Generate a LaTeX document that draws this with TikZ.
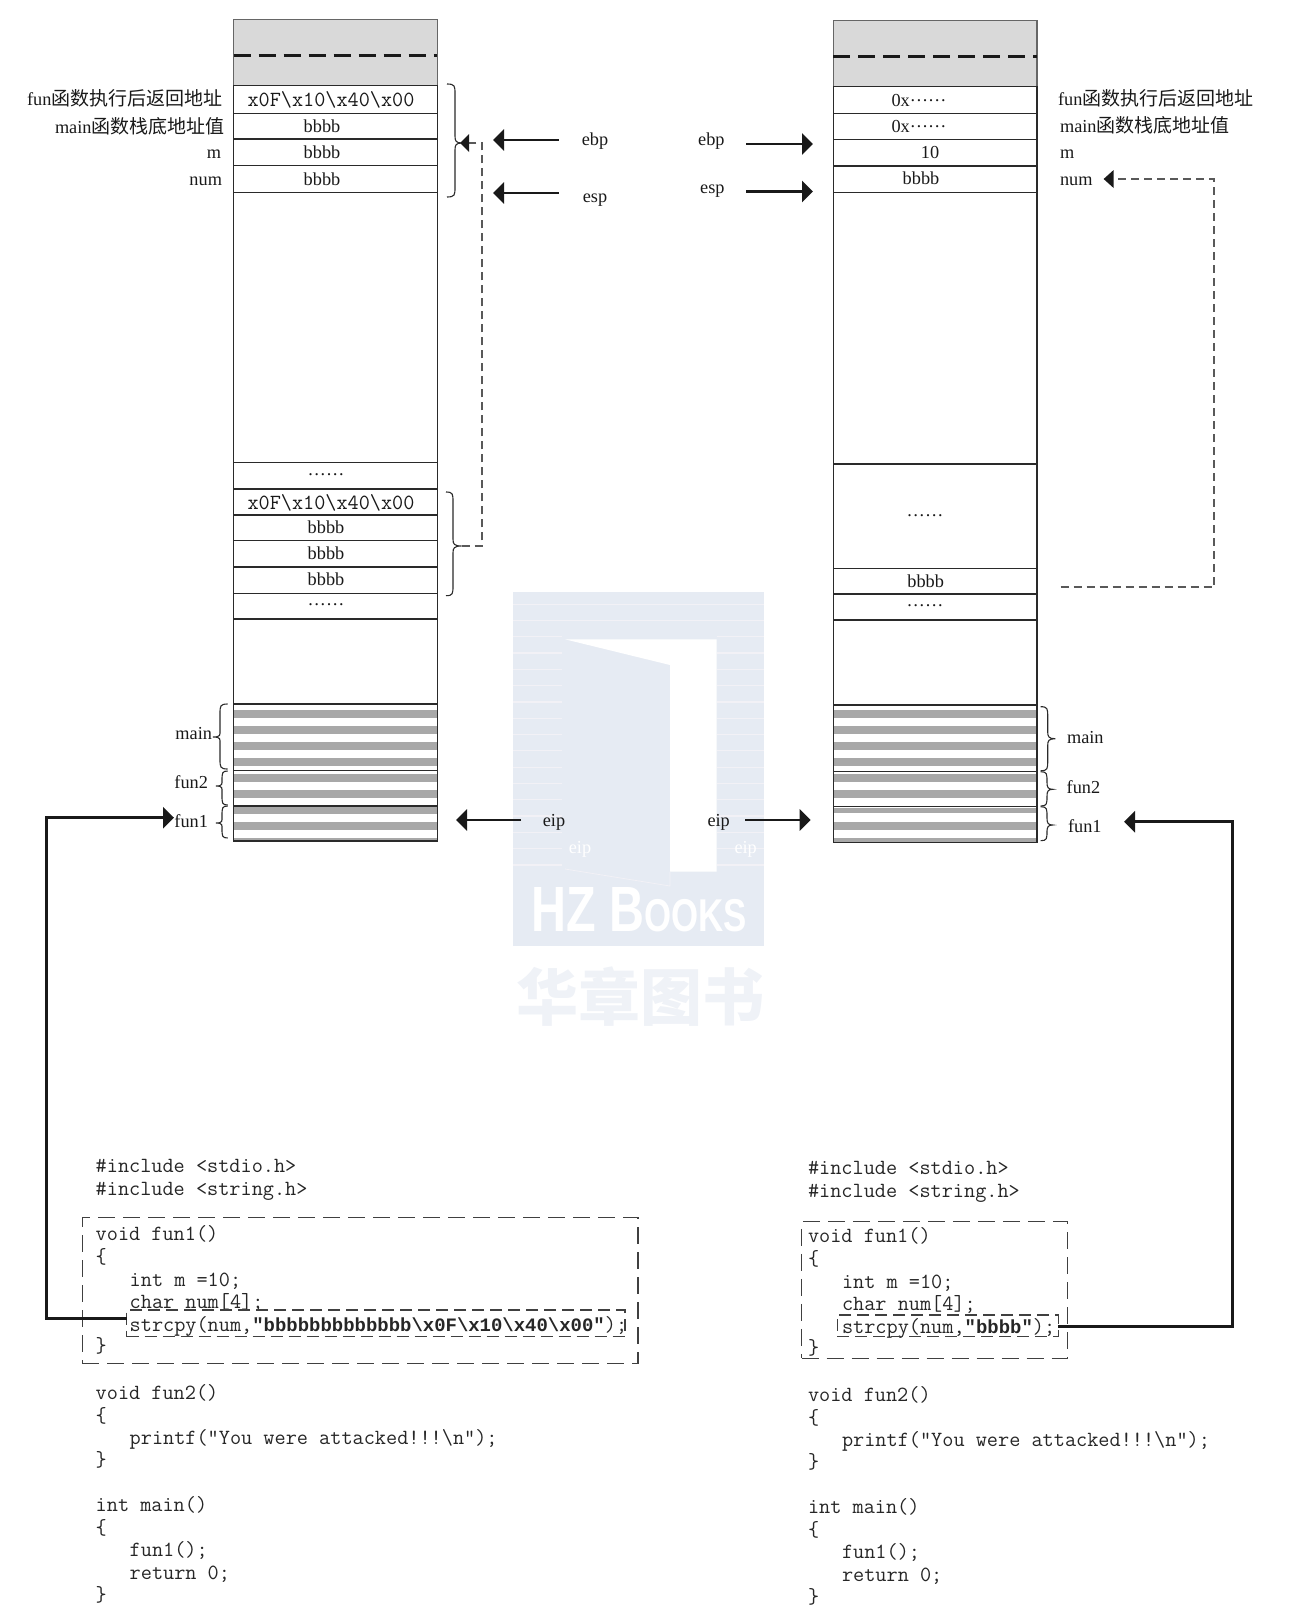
\documentclass[tikz,border=0pt]{standalone}
\usepackage{fontspec}
\usetikzlibrary{arrows.meta}
\setmainfont{Liberation Serif}
\newfontfamily\cjk{Noto Sans CJK SC}
\newfontfamily\wmfont{Liberation Sans}
\newfontfamily\monobold{Liberation Mono}
\definecolor{ink}{HTML}{2A2A2A}
\definecolor{wmblue}{HTML}{E6EBF3}
\definecolor{wmpale}{HTML}{F2F1F6}
\definecolor{wmtext}{HTML}{EFF2F7}
\newcommand{\cn}[1]{{\cjk\fontsize{19}{19}\selectfont #1}}
\newcommand{\boldcode}[1]{{\monobold\bfseries\fontsize{18.95}{19}\selectfont #1}}
\tikzset{
  cellbox/.style={draw=ink,line width=1.2pt,inner sep=0pt,outer sep=0pt,minimum width=203.6pt,anchor=north west},
  greyrow/.style={cellbox,fill=black!15,draw=black!60},
  lab/.style={inner sep=0pt,outer sep=0pt,text height=16pt,text depth=3pt,text=black!90,font=\fontsize{18.3}{18}\selectfont},
  hex/.style={lab,font=\fontsize{21.6}{20}\selectfont\ttfamily},
  code/.style={inner sep=0pt,outer sep=0pt,anchor=west,text height=15pt,text depth=0pt,text=black!85,font=\fontsize{21.65}{21}\selectfont\ttfamily},
  bigarrow/.style={draw=black!90,line width=2.8pt,-{Triangle[length=11pt,width=21pt]}},
  dashconn/.style={draw=black!65,line width=1.4pt,dash pattern=on 8pt off 5pt},
  dashbox/.style={draw=black!75,line width=1.4pt,dash pattern=on 17pt off 8pt,inner sep=0pt,outer sep=0pt,anchor=north west},
  innerdash/.style={dashbox,dash pattern=on 12pt off 6pt},
  heavydash/.style={draw=black!90,line width=3.2pt,dash pattern=on 17pt off 8pt},
  bracepath/.style={draw=ink,line width=1.1pt},
}
\newcommand{\stackrow}[5][cellbox]{\node[#1,minimum height={(#5-#4)*1pt}] (#2) at ({#3},{#4}) {};}
\newcommand{\rightbrace}[6]{\draw[bracepath] ({#1},{#4}) .. controls ({#2},{#4}) and ({#2},{#4+2}) .. ({#2},{#4+10}) -- ({#2},{#5-7}) .. controls ({#2},{#5-2}) and ({#2+1},{#5}) .. ({#3},{#5}) .. controls ({#2+1},{#5}) and ({#2},{#5+2}) .. ({#2},{#5+7}) -- ({#2},{#6-10}) .. controls ({#2},{#6-2}) and ({#2},{#6}) .. ({#1},{#6});}
\newcommand{\stripes}[1]{\foreach \a/\b in {#1} {\fill[black!34] (\stripex,\a) rectangle ++(203.6,{\b-\a});}}
\begin{document}
\begin{tikzpicture}[x=1pt,y=-1pt]
\useasboundingbox (0,0) rectangle (1292,1614);

% ---------- publisher's faint mark
\fill[wmblue] (513.3,591.7) rectangle (764,946);
\foreach \i in {0,...,16} {
  \pgfmathsetmacro{\ypos}{603.5+16.3*\i}
  \fill[wmpale] (513.3,\ypos) rectangle (562,\ypos+1.2);
  \fill[wmpale] (717,\ypos) rectangle (764,\ypos+1.2);
}
\fill[wmpale] (562,603.5) rectangle (717,604.7);
\fill[wmpale] (562,619.8) rectangle (717,621);
\fill[white] (565,639.3) -- (716.7,639.3) -- (716.7,871.7) -- (670,871.7) -- (670,665) -- cycle;
\draw[wmpale,line width=.8pt] (565,869) -- (670,886) -- (670,871.7);
\node[inner sep=0pt,text=white] (wmhz) at (639,910) {\scalebox{.757}[1]{\wmfont\bfseries\fontsize{64}{64}\selectfont HZ B{\fontsize{46}{46}\selectfont OOKS}}};
\node[inner sep=0pt,text=wmtext,font=\cjk\bfseries\fontsize{62}{62}\selectfont] (wmcn) at (640,997) {华章图书};
\node[lab,text=white] (wmeipa) at (580,846.7) {eip};
\node[lab,text=white] (wmeipb) at (745.7,846.7) {eip};

% ---------- stripes
\def\stripex{233.7}
\stripes{710/717.7,726/733.7,742/749.7,758/765.7,774/781.7,790/797.7,806.7/813.7,822/829.7,838.3/841}
\def\stripex{833.3}
\stripes{710/717.7,726/733.7,742/749.7,758/765.7,774/781.7,790/797.7,808/813.3,822/829.7,838/842.7}

% ---------- left stack
\stackrow[greyrow]{la}{233.7}{19.6}{85.4}
\stackrow{lb}{233.7}{85.4}{113.2}
\stackrow{lc}{233.7}{113.2}{139}
\stackrow{ld}{233.7}{139}{165.8}
\stackrow{le}{233.7}{165.8}{192.5}
\stackrow{lf}{233.7}{192.5}{462.5}
\stackrow{lg}{233.7}{462.5}{489}
\stackrow{lh}{233.7}{489}{515}
\stackrow{li}{233.7}{515}{540.7}
\stackrow{lj}{233.7}{540.7}{567}
\stackrow{lk}{233.7}{567}{593.3}
\stackrow{ll}{233.7}{593.3}{619}
\stackrow{lm}{233.7}{619}{704}
\stackrow{ln}{233.7}{704}{770.7}
\stackrow{lo}{233.7}{770.7}{806}
\stackrow{lp}{233.7}{806}{841}
\draw[heavydash] (la.west|-0,55.2) -- (la.east|-0,55.2);

% ---------- right stack
\stackrow[greyrow]{ra}{833.3}{20.7}{86.7}
\stackrow{rb}{833.3}{86.7}{113.3}
\stackrow{rc}{833.3}{113.3}{139.3}
\stackrow{rd}{833.3}{139.3}{166}
\stackrow{re}{833.3}{166}{192.7}
\stackrow{rf}{833.3}{192.7}{464}
\stackrow{rg}{833.3}{464}{568.3}
\stackrow{rh}{833.3}{568.3}{594}
\stackrow{ri}{833.3}{594}{620}
\stackrow{rj}{833.3}{620}{705}
\stackrow{rk}{833.3}{705}{771.7}
\stackrow{rl}{833.3}{771.7}{806.7}
\stackrow{rm}{833.3}{806.7}{842.7}
\draw[heavydash] (ra.west|-0,56.8) -- (ra.east|-0,56.8);

% ---------- cell texts, left
\node[hex] (lt1) at (331,100) {x0F\textbackslash x10\textbackslash x40\textbackslash x00};
\node[lab] (lt2) at (322,126) {bbbb};
\node[lab] (lt3) at (322,152) {bbbb};
\node[lab] (lt4) at (322,179) {bbbb};
\node[lab] (lt5) at (326,474) {\raisebox{.25em}{……}};
\node[hex] (lt6) at (331,502.7) {x0F\textbackslash x10\textbackslash x40\textbackslash x00};
\node[lab] (lt7) at (326,527) {bbbb};
\node[lab] (lt8) at (326,553) {bbbb};
\node[lab] (lt9) at (326,579) {bbbb};
\node[lab] (lt10) at (326,604) {\raisebox{.25em}{……}};

% ---------- cell texts, right
\node[lab] (rt1) at (919,100) {0x\raisebox{.25em}{……}};
\node[lab] (rt2) at (919,126) {0x\raisebox{.25em}{……}};
\node[lab] (rt3) at (930,152) {10};
\node[lab] (rt4) at (921,178) {bbbb};
\node[lab] (rt5) at (925,515) {\raisebox{.25em}{……}};
\node[lab] (rt6) at (925.7,581) {bbbb};
\node[lab] (rt7) at (925,605) {\raisebox{.25em}{……}};

% ---------- side labels
\node[lab,anchor=east] (ls1) at (222.5,99) {fun\cn{函数执行后返回地址}};
\node[lab,anchor=east] (ls2) at (224.6,127) {main\cn{函数栈底地址值}};
\node[lab,anchor=east] (ls3) at (221,152) {m};
\node[lab,anchor=east] (ls4) at (222,179) {num};
\node[lab,anchor=west] (rs1) at (1058,99) {fun\cn{函数执行后返回地址}};
\node[lab,anchor=west] (rs2) at (1060,126) {main\cn{函数栈底地址值}};
\node[lab,anchor=west] (rs3) at (1060,152) {m};
\node[lab,anchor=west] (rs4) at (1060,179) {num};

\node[lab,anchor=east] (lmain) at (212,733) {main};
\node[lab,anchor=east] (lfun2) at (208,782) {fun2};
\node[lab,anchor=east] (lfun1) at (208,821) {fun1};
\node[lab,anchor=west] (rmain) at (1067,737) {main};
\node[lab,anchor=west] (rfun2) at (1066.7,787) {fun2};
\node[lab,anchor=west] (rfun1) at (1068,826) {fun1};

% ---------- register names
\node[lab] (lebp) at (595,139) {ebp};
\node[lab] (lesp) at (595,196) {esp};
\node[lab] (leip) at (554,820) {eip};
\node[lab] (rebp) at (711.4,139) {ebp};
\node[lab] (resp) at (712.4,187) {esp};
\node[lab] (reip) at (718.7,820) {eip};

% ---------- braces
\rightbrace{447}{455}{462}{84}{143}{197}
\rightbrace{446}{453}{461.7}{492}{546}{595.7}
\rightbrace{227.7}{220}{213}{704}{737}{769}
\rightbrace{227.7}{222}{216}{771}{786}{805}
\rightbrace{227.7}{222}{216}{806}{823}{838}
\rightbrace{1040.7}{1047.7}{1055.3}{706.7}{738.7}{770.7}
\rightbrace{1040.7}{1047}{1052.7}{771.7}{789.3}{806}
\rightbrace{1040.7}{1047}{1052.7}{806.7}{825}{840.7}

% ---------- register arrows
\coordinate (a1s) at (558.6,140); \coordinate (a1e) at (493,140);
\coordinate (a2s) at (558.6,193); \coordinate (a2e) at (493,193);
\coordinate (a3s) at (521,820);   \coordinate (a3e) at (456,820);
\coordinate (a4s) at (746.4,144); \coordinate (a4e) at (813,144);
\coordinate (a5s) at (746.4,191.5); \coordinate (a5e) at (813,191.5);
\coordinate (a6s) at (745,820);   \coordinate (a6e) at (810.7,820);
\draw[bigarrow] (a1s) -- (a1e);
\draw[bigarrow] (a2s) -- (a2e);
\draw[bigarrow] (a3s) -- (a3e);
\draw[bigarrow] (a4s) -- (a4e);
\draw[bigarrow] (a5s) -- (a5e);
\draw[bigarrow] (a6s) -- (a6e);

% ---------- dashed overflow connectors
\coordinate (dLs) at (461.7,546); \coordinate (dLc1) at (482,546); \coordinate (dLc2) at (482,143); \coordinate (dLe) at (460,143);
\draw[dashconn] (dLs) -- (dLc1) -- (dLc2) -- (468,143);
\fill[black!90] (dLe) -- (469,134) -- (469,152) -- cycle;
\coordinate (dRs) at (1060.5,587); \coordinate (dRc1) at (1214,587); \coordinate (dRc2) at (1214,179); \coordinate (dRe) at (1103.6,179);
\draw[dashconn] (dRs) -- (dRc1) -- (dRc2) -- (1112,179);
\fill[black!90] (dRe) -- (1113.6,170) -- (1113.6,188) -- cycle;

% ---------- code, left
\node[code] (a01) at (95.7,1165.4) {\#include <stdio.h>};
\node[code] (a02) at (95.7,1188) {\#include <string.h>};
\node[code] (a03) at (95.7,1233.4) {void fun1()};
\node[code] (a04) at (95.7,1256) {\{};
\node[code] (a05) at (129.7,1278.6) {int m =10;};
\node[code] (a06) at (129.7,1301.3) {char num[4];};
\node[code] (a07) at (129.7,1324) {strcpy(num,\boldcode{\string"bbbbbbbbbbbbb\textbackslash x0F\textbackslash x10\textbackslash x40\textbackslash x00\string"});};
\node[code] (a08) at (95.7,1345) {\}};
\node[code] (a09) at (95.7,1392) {void fun2()};
\node[code] (a10) at (95.7,1414.6) {\{};
\node[code] (a11) at (129.7,1437.3) {printf(\string"You were attacked!!!\textbackslash n\string");};
\node[code] (a12) at (95.7,1459) {\}};
\node[code] (a13) at (95.7,1504) {int main()};
\node[code] (a14) at (95.7,1526.7) {\{};
\node[code] (a15) at (129.7,1549.4) {fun1();};
\node[code] (a16) at (129.7,1572) {return 0;};
\node[code] (a17) at (95.7,1593.7) {\}};

% ---------- code, right
\node[code] (b01) at (808,1167.4) {\#include <stdio.h>};
\node[code] (b02) at (808,1190) {\#include <string.h>};
\node[code] (b03) at (808,1235.4) {void fun1()};
\node[code] (b04) at (808,1258) {\{};
\node[code] (b05) at (842,1280.6) {int m =10;};
\node[code] (b06) at (842,1303.3) {char num[4];};
\node[code] (b07) at (842,1326) {strcpy(num,\boldcode{\string"bbbb\string"});};
\node[code] (b08) at (808,1347) {\}};
\node[code] (b09) at (808,1394) {void fun2()};
\node[code] (b10) at (808,1416.6) {\{};
\node[code] (b11) at (842,1439.3) {printf(\string"You were attacked!!!\textbackslash n\string");};
\node[code] (b12) at (808,1461) {\}};
\node[code] (b13) at (808,1506) {int main()};
\node[code] (b14) at (808,1528.7) {\{};
\node[code] (b15) at (842,1551.4) {fun1();};
\node[code] (b16) at (842,1574) {return 0;};
\node[code] (b17) at (808,1595.7) {\}};

% ---------- dashed code boxes
\node[dashbox,minimum width=555.6pt,minimum height=146pt] (outerL) at (82.4,1217.3) {};
\node[innerdash,minimum width=498.3pt,minimum height=26.7pt] (innerL) at (126.7,1310) {};
\node[dashbox,minimum width=265.6pt,minimum height=136.6pt] (outerR) at (801.7,1221.7) {};
\node[innerdash,minimum width=221pt,minimum height=21.7pt] (innerR) at (837.3,1315) {};

% ---------- call arrows
\coordinate (cLs) at (126.7,1318.3); \coordinate (cLa) at (46.7,1318.3); \coordinate (cLb) at (46.7,817.7); \coordinate (cLe) at (174,817.7);
\draw[bigarrow] (cLs) -- (cLa) -- (cLb) -- (cLe);
\coordinate (cRs) at (1058.3,1326.7); \coordinate (cRa) at (1232.5,1326.7); \coordinate (cRb) at (1232.5,821.7); \coordinate (cRe) at (1124,821.7);
\draw[bigarrow] (cRs) -- (cRa) -- (cRb) -- (cRe);
\end{tikzpicture}
\end{document}
